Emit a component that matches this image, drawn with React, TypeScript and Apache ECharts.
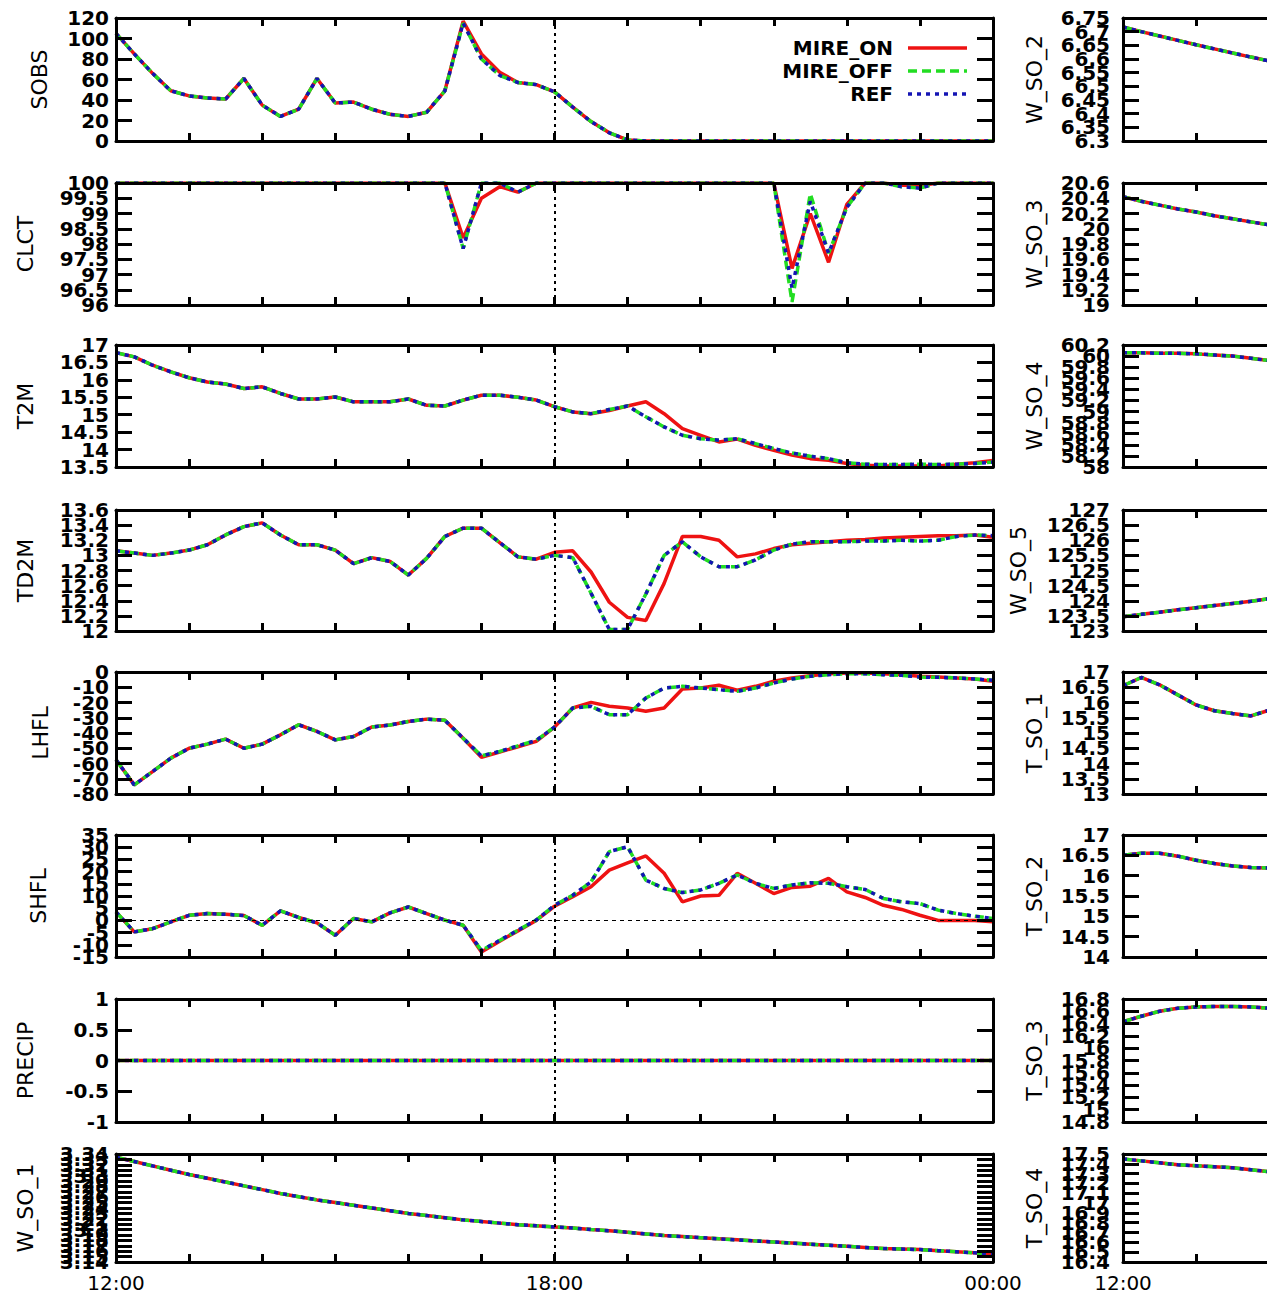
import React, { useEffect, useRef } from 'react';
import * as echarts from 'echarts';

const TIMES = ['12:00','12:15','12:30','12:45','13:00','13:15','13:30','13:45','14:00','14:15','14:30','14:45',
  '15:00','15:15','15:30','15:45','16:00','16:15','16:30','16:45','17:00','17:15','17:30','17:45',
  '18:00','18:15','18:30','18:45','19:00','19:15','19:30','19:45','20:00','20:15','20:30','20:45',
  '21:00','21:15','21:30','21:45','22:00','22:15','22:30','22:45','23:00','23:15','23:30','23:45',
  '00:00'];

const SERIES_NAMES = ['MIRE_ON', 'MIRE_OFF', 'REF'];

// ---- left column ----
const SOBS_REF = [105, 85, 66, 49, 44, 42, 41, 61, 35, 24, 31, 61,
  37, 38, 31, 26, 24, 28, 49, 115, 80, 64, 57, 55,
  48, 33, 19, 8, 1, 0, 0, 0, 0, 0, 0, 0,
  0, 0, 0, 0, 0, 0, 0, 0, 0, 0, 0, 0,
  0];
const SOBS_ON = [105, 85, 66, 49, 44, 42, 41, 61, 35, 24, 31, 61,
  37, 38, 31, 26, 24, 28, 49, 117, 85, 67, 57, 55,
  48, 33, 19, 8, 1, 0, 0, 0, 0, 0, 0, 0,
  0, 0, 0, 0, 0, 0, 0, 0, 0, 0, 0, 0,
  0];

const CLCT_REF = [100, 100, 100, 100, 100, 100, 100, 100, 100, 100, 100, 100,
  100, 100, 100, 100, 100, 100, 100, 97.85, 100, 100, 99.7, 100,
  100, 100, 100, 100, 100, 100, 100, 100, 100, 100, 100, 100,
  100, 96.55, 99.4, 97.7, 99.2, 100, 100, 99.88, 99.83, 100, 100, 100,
  100];
const CLCT_OFF = [100, 100, 100, 100, 100, 100, 100, 100, 100, 100, 100, 100,
  100, 100, 100, 100, 100, 100, 100, 97.85, 100, 100, 99.7, 100,
  100, 100, 100, 100, 100, 100, 100, 100, 100, 100, 100, 100,
  100, 96.1, 99.65, 97.7, 99.2, 100, 100, 99.88, 99.83, 100, 100, 100,
  100];
const CLCT_ON = [100, 100, 100, 100, 100, 100, 100, 100, 100, 100, 100, 100,
  100, 100, 100, 100, 100, 100, 100, 98.2, 99.5, 99.88, 99.7, 100,
  100, 100, 100, 100, 100, 100, 100, 100, 100, 100, 100, 100,
  100, 97.2, 99.0, 97.4, 99.3, 100, 100, 99.93, 99.92, 100, 100, 100,
  100];

const T2M_REF = [16.78, 16.66, 16.42, 16.23, 16.06, 15.94, 15.88, 15.75, 15.8, 15.61, 15.45, 15.45,
  15.51, 15.37, 15.37, 15.37, 15.45, 15.27, 15.25, 15.42, 15.56, 15.56, 15.5, 15.42,
  15.23, 15.08, 15.03, 15.15, 15.25, 14.94, 14.65, 14.41, 14.31, 14.27, 14.31, 14.17,
  14.03, 13.9, 13.81, 13.74, 13.62, 13.58, 13.57, 13.57, 13.58, 13.57, 13.58, 13.6,
  13.64];
const T2M_ON = [16.78, 16.66, 16.42, 16.23, 16.06, 15.94, 15.88, 15.75, 15.8, 15.61, 15.45, 15.45,
  15.51, 15.37, 15.37, 15.37, 15.45, 15.27, 15.25, 15.42, 15.56, 15.56, 15.5, 15.42,
  15.23, 15.08, 15.03, 15.12, 15.25, 15.37, 15.03, 14.6, 14.41, 14.22, 14.3, 14.12,
  13.98, 13.84, 13.74, 13.69, 13.6, 13.55, 13.53, 13.53, 13.53, 13.53, 13.58, 13.62,
  13.69];

const TD2M_REF = [13.06, 13.03, 13.0, 13.03, 13.07, 13.14, 13.27, 13.38, 13.43, 13.27, 13.14, 13.14,
  13.07, 12.89, 12.97, 12.92, 12.74, 12.96, 13.25, 13.36, 13.36, 13.17, 12.98, 12.95,
  13.0, 12.97, 12.5, 12.02, 12.02, 12.49, 13.0, 13.18, 12.98, 12.85, 12.85, 12.94,
  13.07, 13.15, 13.18, 13.18, 13.18, 13.19, 13.19, 13.2, 13.19, 13.2, 13.25, 13.27,
  13.26];
const TD2M_ON = [13.06, 13.03, 13.0, 13.03, 13.07, 13.14, 13.27, 13.38, 13.43, 13.27, 13.14, 13.14,
  13.07, 12.89, 12.97, 12.92, 12.74, 12.96, 13.25, 13.36, 13.36, 13.17, 12.98, 12.95,
  13.04, 13.06, 12.78, 12.38, 12.18, 12.14, 12.63, 13.25, 13.25, 13.2, 12.98, 13.02,
  13.09, 13.14, 13.16, 13.18, 13.2, 13.21, 13.23, 13.24, 13.25, 13.26, 13.26, 13.27,
  13.24];

const LHFL_REF = [-57.6, -74, -65.3, -56.5, -50, -47.3, -44, -50, -47.3, -41.2, -34.6, -39,
  -44.5, -42.3, -36.1, -34.8, -32.4, -30.9, -31.7, -43.4, -55, -52.1, -48.4, -44.9,
  -36.1, -23.6, -22.5, -28, -28, -17.1, -10.5, -9.4, -10.5, -11.6, -12.7, -10.5,
  -7.2, -4.6, -2.8, -1.8, -1.1, -1.1, -1.8, -2.2, -3.3, -3.5, -3.9, -4.6,
  -5.4];
const LHFL_ON = [-57.6, -74, -65.3, -56.5, -50, -47.3, -44, -50, -47.3, -41.2, -34.6, -39,
  -44.5, -42.3, -36.1, -34.8, -32.4, -30.9, -31.7, -43.4, -55.9, -52.5, -49, -45.5,
  -36.1, -23.6, -19.9, -22.5, -23.6, -25.8, -23.6, -11.1, -10.5, -8.7, -12.0, -9.4,
  -6.1, -3.9, -2.4, -1.1, -0.7, -0.7, -1.1, -1.8, -2.8, -3.3, -3.9, -4.6,
  -6.1];

const SHFL_REF = [3.5, -4.7, -3.4, -0.6, 2.1, 2.8, 2.5, 2.0, -2, 3.9, 1.2, -1,
  -6.1, 0.8, -0.6, 3.1, 5.5, 2.8, 0.1, -2.0, -12.3, -8.2, -4, 0.1,
  6.2, 10.3, 15.8, 28.2, 30.2, 16.5, 13.1, 11.4, 12.5, 15.2, 18.6, 15.2,
  13.1, 14.5, 15.4, 15.2, 13.8, 12.7, 9.0, 7.6, 6.9, 4.2, 2.8, 1.7,
  0.8];
const SHFL_ON = [3.5, -4.7, -3.4, -0.6, 2.1, 2.8, 2.5, 2.0, -2, 3.9, 1.2, -1,
  -6.1, 0.8, -0.6, 3.1, 5.5, 2.8, 0.1, -2.0, -13, -8.5, -4.3, 0,
  5.8, 9.7, 13.8, 20.6, 23.6, 26.4, 19.3, 7.6, 10, 10.3, 19.3, 15.2,
  11.0, 13.5, 14.0, 17.2, 11.7, 9.4, 6.2, 4.5, 2.1, 0, 0, 0,
  -0.6];

const PRECIP_ALL = [0, 0, 0, 0, 0, 0, 0, 0, 0, 0, 0, 0,
  0, 0, 0, 0, 0, 0, 0, 0, 0, 0, 0, 0,
  0, 0, 0, 0, 0, 0, 0, 0, 0, 0, 0, 0,
  0, 0, 0, 0, 0, 0, 0, 0, 0, 0, 0, 0,
  0];

const W_SO_1_ALL = [3.334, 3.326, 3.318, 3.310, 3.302, 3.295, 3.288, 3.281, 3.274, 3.267, 3.261, 3.255,
  3.250, 3.245, 3.240, 3.235, 3.230, 3.226, 3.222, 3.218, 3.215, 3.212, 3.209, 3.207,
  3.205, 3.203, 3.200, 3.198, 3.195, 3.192, 3.189, 3.187, 3.185, 3.183, 3.181, 3.179,
  3.177, 3.175, 3.173, 3.171, 3.169, 3.167, 3.165, 3.164, 3.163, 3.161, 3.159, 3.157,
  3.154];

// ---- right column (only the first two hours are visible) ----
const W_SO_2_ALL = [6.717, 6.70, 6.684, 6.668, 6.652, 6.637, 6.622, 6.607, 6.593];
const W_SO_3_ALL = [20.42, 20.36, 20.31, 20.26, 20.22, 20.17, 20.13, 20.09, 20.05];
const W_SO_4_ALL = [60.06, 60.06, 60.05, 60.05, 60.04, 60.02, 60.0, 59.96, 59.92];
const W_SO_5_ALL = [123.47, 123.55, 123.62, 123.7, 123.77, 123.84, 123.91, 123.98, 124.07];
const T_SO_1_ALL = [16.55, 16.82, 16.58, 16.25, 15.92, 15.73, 15.64, 15.56, 15.75];
const T_SO_2_ALL = [16.5, 16.55, 16.55, 16.48, 16.38, 16.3, 16.24, 16.2, 16.19];
const T_SO_3_ALL = [16.43, 16.52, 16.6, 16.65, 16.67, 16.68, 16.68, 16.67, 16.65];
const T_SO_4_ALL = [17.45, 17.43, 17.41, 17.39, 17.38, 17.37, 17.36, 17.34, 17.32];

// axis scales: name, min, max, interval
const PANELS = [
  { name: 'SOBS', min: 0, max: 120, interval: 20, on: SOBS_ON, off: SOBS_REF, ref: SOBS_REF },
  { name: 'CLCT', min: 96, max: 100, interval: 0.5, on: CLCT_ON, off: CLCT_OFF, ref: CLCT_REF },
  { name: 'T2M', min: 13.5, max: 17, interval: 0.5, on: T2M_ON, off: T2M_REF, ref: T2M_REF },
  { name: 'TD2M', min: 12, max: 13.6, interval: 0.2, on: TD2M_ON, off: TD2M_REF, ref: TD2M_REF },
  { name: 'LHFL', min: -80, max: 0, interval: 10, on: LHFL_ON, off: LHFL_REF, ref: LHFL_REF },
  { name: 'SHFL', min: -15, max: 35, interval: 5, on: SHFL_ON, off: SHFL_REF, ref: SHFL_REF },
  { name: 'PRECIP', min: -1, max: 1, interval: 0.5, on: PRECIP_ALL, off: PRECIP_ALL, ref: PRECIP_ALL },
  { name: 'W_SO_1', min: 3.14, max: 3.34, interval: 0.01, on: W_SO_1_ALL, off: W_SO_1_ALL, ref: W_SO_1_ALL },
  { name: 'W_SO_2', min: 6.3, max: 6.75, interval: 0.05, on: W_SO_2_ALL, off: W_SO_2_ALL, ref: W_SO_2_ALL },
  { name: 'W_SO_3', min: 19, max: 20.6, interval: 0.2, on: W_SO_3_ALL, off: W_SO_3_ALL, ref: W_SO_3_ALL },
  { name: 'W_SO_4', min: 58, max: 60.2, interval: 0.2, on: W_SO_4_ALL, off: W_SO_4_ALL, ref: W_SO_4_ALL },
  { name: 'W_SO_5', min: 123, max: 127, interval: 0.5, on: W_SO_5_ALL, off: W_SO_5_ALL, ref: W_SO_5_ALL },
  { name: 'T_SO_1', min: 13, max: 17, interval: 0.5, on: T_SO_1_ALL, off: T_SO_1_ALL, ref: T_SO_1_ALL },
  { name: 'T_SO_2', min: 14, max: 17, interval: 0.5, on: T_SO_2_ALL, off: T_SO_2_ALL, ref: T_SO_2_ALL },
  { name: 'T_SO_3', min: 14.8, max: 16.8, interval: 0.2, on: T_SO_3_ALL, off: T_SO_3_ALL, ref: T_SO_3_ALL },
  { name: 'T_SO_4', min: 16.4, max: 17.5, interval: 0.1, on: T_SO_4_ALL, off: T_SO_4_ALL, ref: T_SO_4_ALL },
];

// ---- layout & style ----
const ROW_TOPS = [18, 183, 345, 510, 672, 835, 999, 1154];
const ROW_HEIGHTS = [123, 122, 122, 121, 122, 122, 123, 108];
const COL_LEFTS = [116, 1123];
const PLOT_WIDTH = 877;
const NAME_GAPS = [66, 80, 80, 80, 65, 67, 80, 80, 78, 78, 78, 94, 78, 78, 78, 78];
const FONT = '"DejaVu Sans", "Liberation Sans", sans-serif';
const COLORS = ['#ee1212', '#22dd22', '#1414b4'];
const DASHES: any[] = ['solid', [9, 5], [4, 5]];

const fmt = (v: number) => String(parseFloat(Number(v).toFixed(4)));
const isEnd = (v: number, p: any) => Math.abs(v - p.min) < 1e-6 || Math.abs(v - p.max) < 1e-6;

function buildOption() {
  const grid: any[] = [];
  const xAxis: any[] = [];
  const yAxis: any[] = [];
  const series: any[] = [];
  const tickEvery4 = (idx: number) => idx % 4 === 0;
  PANELS.forEach((p, k) => {
    const col = k < 8 ? 0 : 1;
    const row = k % 8;
    grid.push({ left: COL_LEFTS[col], top: ROW_TOPS[row], width: PLOT_WIDTH, height: ROW_HEIGHTS[row], show: false, containLabel: false, outerBoundsMode: 'none' });
    const axisLine = { show: true, onZero: false, lineStyle: { color: '#000', width: 3 } };
    const xi = xAxis.length;
    const labelIdx = col === 0 ? [0, 24, 48] : [0];
    xAxis.push({
      type: 'category', gridIndex: k, data: TIMES, boundaryGap: false, position: 'bottom', z: 5,
      axisLine,
      axisTick: { show: true, inside: true, length: 8, interval: tickEvery4, lineStyle: { color: '#000', width: 3 } },
      axisLabel: row === 7
        ? { show: true, interval: (idx: number) => labelIdx.indexOf(idx) >= 0, color: '#000', fontSize: 20, fontFamily: FONT, margin: 11, showMinLabel: true, showMaxLabel: col === 0 }
        : { show: false },
      splitLine: { show: false },
    });
    xAxis.push({
      type: 'category', gridIndex: k, data: TIMES, boundaryGap: false, position: 'top', z: 5,
      axisLine,
      axisTick: { show: true, inside: true, length: 8, interval: tickEvery4, lineStyle: { color: '#000', width: 3 } },
      axisLabel: { show: false }, splitLine: { show: false },
    });
    const labelBase = { show: true, color: '#000', fontSize: 20, fontWeight: 'bold', fontFamily: FONT,
      margin: col === 0 ? 7 : 13, hideOverlap: false };
    const yi = yAxis.length;
    // main left axis: ticks, name and the inner labels
    yAxis.push({
      type: 'value', gridIndex: k, min: p.min, max: p.max, interval: p.interval, position: 'left', z: 5,
      name: p.name, nameLocation: 'middle', nameRotate: 90, nameGap: NAME_GAPS[k],
      nameTextStyle: { color: '#000', fontSize: 22, fontFamily: FONT },
      axisLine,
      axisTick: { show: true, inside: true, length: 16, lineStyle: { color: '#000', width: 3 } },
      axisLabel: { ...labelBase, formatter: (v: number) => (isEnd(v, p) ? '' : fmt(v)) },
      splitLine: { show: false },
    });
    // overlay left axis: only the end labels, so crowded neighbours are never dropped
    yAxis.push({
      type: 'value', gridIndex: k, min: p.min, max: p.max, interval: p.interval, position: 'left', z: 5,
      axisLine: { show: false }, axisTick: { show: false },
      axisLabel: { ...labelBase, showMinLabel: true, showMaxLabel: true, formatter: (v: number) => (isEnd(v, p) ? fmt(v) : '') },
      splitLine: { show: false },
    });
    yAxis.push({
      type: 'value', gridIndex: k, min: p.min, max: p.max, interval: p.interval, position: 'right', z: 5,
      axisLine,
      axisTick: { show: true, inside: true, length: 16, lineStyle: { color: '#000', width: 3 } },
      axisLabel: { show: false }, splitLine: { show: false },
    });
    const datas = [p.on, p.off, p.ref];
    datas.forEach((d, s) => {
      const ser: any = {
        type: 'line', name: SERIES_NAMES[s], data: d, xAxisIndex: xi, yAxisIndex: yi,
        symbol: 'none', silent: true, z: 2 + s,
        lineStyle: { color: COLORS[s], width: 3.5, type: DASHES[s] },
        itemStyle: { color: COLORS[s] },
      };
      if (s === 0 && col === 0) {
        const ml: any[] = [{ xAxis: '18:00', lineStyle: { color: '#000', width: 2, type: [3, 4] } }];
        if (p.name === 'SHFL') ml.push({ yAxis: 0, lineStyle: { color: '#000', width: 1.2, type: [4, 4] } });
        ser.markLine = { silent: true, symbol: ['none', 'none'], label: { show: false }, animation: false, data: ml };
      }
      series.push(ser);
    });
  });

  const legendY = [48, 71, 94];
  const graphic: any[] = [];
  SERIES_NAMES.forEach((n, s) => {
    graphic.push({ type: 'text', x: 893, y: legendY[s], z: 10,
      style: { text: n, fill: '#000', font: 'bold 20px ' + FONT, textAlign: 'right', verticalAlign: 'middle', textVerticalAlign: 'middle' } });
    graphic.push({ type: 'line', z: 10, shape: { x1: 908, y1: legendY[s], x2: 967, y2: legendY[s] },
      style: { stroke: COLORS[s], lineWidth: 3.5, lineDash: s === 0 ? null : DASHES[s] } });
  });

  return { animation: false, backgroundColor: '#fff', grid, xAxis, yAxis, series, graphic };
}

export default function App() {
  const ref = useRef<HTMLDivElement>(null);
  useEffect(() => {
    document.body.style.margin = '0';
    const chart = echarts.init(ref.current!, null, { renderer: 'svg' });
    chart.setOption(buildOption());
    return () => chart.dispose();
  }, []);
  return <div ref={ref} style={{ width: 1267, height: 1297, overflow: 'hidden' }} />;
}
